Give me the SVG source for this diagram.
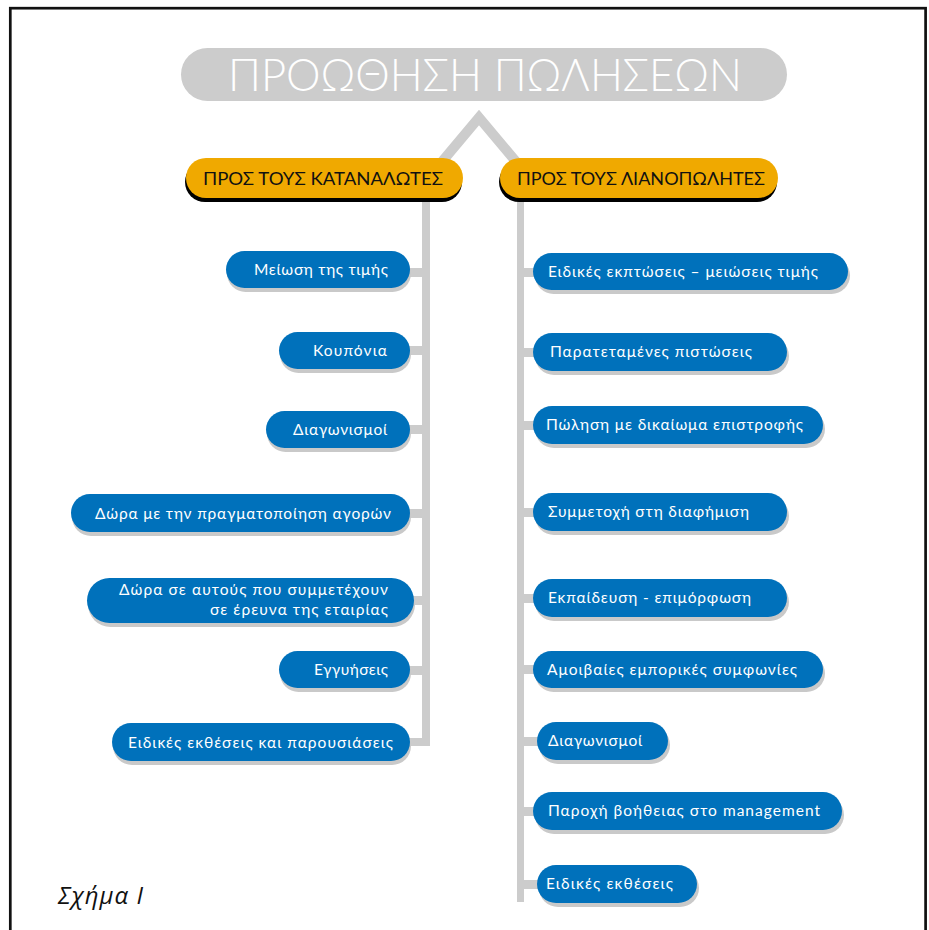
<svg xmlns="http://www.w3.org/2000/svg" width="929" height="930" viewBox="0 0 929 930">
<style>
.frame{fill:none;stroke:#111;stroke-width:2.7}
.bar{fill:#cccccc}
.chev{fill:none;stroke:#cccccc;stroke-width:10;stroke-linejoin:miter}
.title{fill:#cccccc}
.tt{font-family:Lato,"Open Sans",sans-serif;font-weight:300;font-size:46px;fill:#ffffff}
.cat{fill:#f0a900}
.catsh{fill:#000000}
.ct{font-family:Lato,"Open Sans",sans-serif;font-size:17px;fill:#111111}
.node{fill:#0071bb}
.sh{fill:#c9c9c9}
.nt{font-family:Lato,"Open Sans",sans-serif;font-size:15.5px;fill:#ffffff}
.cap{font-family:"Open Sans",Lato,sans-serif;font-style:italic;font-size:24px;fill:#111111}
</style>
<rect class="frame" x="10.3" y="8.2" width="915.3" height="940"/>

<g id="connectors">
  <polyline class="chev" points="435,170 479,117.5 523,170"/>
  <rect class="bar" x="422" y="195" width="8" height="551"/>
  <rect class="bar" x="517" y="195" width="7" height="707"/>
  <rect class="bar" x="405" y="268" width="20" height="9"/>
  <rect class="bar" x="405" y="346" width="20" height="9"/>
  <rect class="bar" x="405" y="425" width="20" height="9"/>
  <rect class="bar" x="405" y="509" width="20" height="9"/>
  <rect class="bar" x="405" y="596" width="20" height="9"/>
  <rect class="bar" x="405" y="666" width="20" height="9"/>
  <rect class="bar" x="405" y="738" width="20" height="8"/>
  <rect class="bar" x="520" y="268" width="20" height="9"/>
  <rect class="bar" x="520" y="348" width="20" height="9"/>
  <rect class="bar" x="520" y="421" width="20" height="9"/>
  <rect class="bar" x="520" y="508" width="20" height="9"/>
  <rect class="bar" x="520" y="594" width="20" height="9"/>
  <rect class="bar" x="520" y="665" width="20" height="9"/>
  <rect class="bar" x="520" y="737" width="20" height="9"/>
  <rect class="bar" x="520" y="807" width="20" height="9"/>
  <rect class="bar" x="520" y="880" width="20" height="9"/>
</g>

<g id="title">
  <rect class="title" x="181" y="48" width="606" height="53" rx="26.5"/>
  <text class="tt" x="228" y="91" textLength="514" lengthAdjust="spacingAndGlyphs">ΠΡΟΩΘΗΣΗ ΠΩΛΗΣΕΩΝ</text>
</g>

<g id="cat-left">
  <rect class="catsh" x="185" y="162" width="277" height="40" rx="20"/>
  <rect class="cat" x="186" y="158" width="277" height="40" rx="20"/>
  <text class="ct" x="203" y="185" textLength="240" lengthAdjust="spacingAndGlyphs">ΠΡΟΣ ΤΟΥΣ ΚΑΤΑΝΑΛΩΤΕΣ</text>
</g>
<g id="cat-right">
  <rect class="catsh" x="499" y="162" width="278" height="40" rx="20"/>
  <rect class="cat" x="500" y="158" width="278" height="40" rx="20"/>
  <text class="ct" x="517" y="185" textLength="248" lengthAdjust="spacingAndGlyphs">ΠΡΟΣ ΤΟΥΣ ΛΙΑΝΟΠΩΛΗΤΕΣ</text>
</g>

<g id="l1">
  <rect class="sh" x="227" y="255" width="184" height="37" rx="18.5"/>
  <rect class="node" x="226" y="251" width="184" height="37" rx="18.5"/>
  <text class="nt" x="388" y="275" text-anchor="end" textLength="134">Μείωση της τιμής</text>
</g>
<g id="l2">
  <rect class="sh" x="280" y="336" width="131" height="37" rx="18.5"/>
  <rect class="node" x="279" y="332" width="131" height="37" rx="18.5"/>
  <text class="nt" x="387" y="356" text-anchor="end" textLength="74">Κουπόνια</text>
</g>
<g id="l3">
  <rect class="sh" x="267" y="415" width="144" height="37" rx="18.5"/>
  <rect class="node" x="266" y="411" width="144" height="37" rx="18.5"/>
  <text class="nt" x="387" y="435" text-anchor="end" textLength="94">Διαγωνισμοί</text>
</g>
<g id="l4">
  <rect class="sh" x="72" y="498" width="339" height="38" rx="19"/>
  <rect class="node" x="71" y="494" width="339" height="38" rx="19"/>
  <text class="nt" x="391" y="519" text-anchor="end" textLength="296">Δώρα με την πραγματοποίηση αγορών</text>
</g>
<g id="l5">
  <rect class="sh" x="88" y="582" width="327" height="45" rx="22.5"/>
  <rect class="node" x="87" y="578" width="327" height="45" rx="22.5"/>
  <text class="nt" x="388" y="595" text-anchor="end" textLength="269">Δώρα σε αυτούς που συμμετέχουν</text>
  <text class="nt" x="388" y="615" text-anchor="end" textLength="178">σε έρευνα της εταιρίας</text>
</g>
<g id="l6">
  <rect class="sh" x="280" y="655" width="131" height="37" rx="18.5"/>
  <rect class="node" x="279" y="651" width="131" height="37" rx="18.5"/>
  <text class="nt" x="388" y="675" text-anchor="end" textLength="74">Εγγυήσεις</text>
</g>
<g id="l7">
  <rect class="sh" x="113" y="727" width="298" height="38" rx="19"/>
  <rect class="node" x="112" y="723" width="298" height="38" rx="19"/>
  <text class="nt" x="393" y="748" text-anchor="end" textLength="265">Ειδικές εκθέσεις και παρουσιάσεις</text>
</g>

<g id="r1">
  <rect class="sh" x="535" y="257" width="315" height="37" rx="18.5"/>
  <rect class="node" x="533" y="253" width="315" height="37" rx="18.5"/>
  <text class="nt" x="548" y="277" textLength="270">Ειδικές εκπτώσεις – μειώσεις τιμής</text>
</g>
<g id="r2">
  <rect class="sh" x="535" y="337" width="254" height="38" rx="19"/>
  <rect class="node" x="533" y="333" width="254" height="38" rx="19"/>
  <text class="nt" x="550" y="357" textLength="202">Παρατεταμένες πιστώσεις</text>
</g>
<g id="r3">
  <rect class="sh" x="535" y="410" width="290" height="38" rx="19"/>
  <rect class="node" x="533" y="406" width="290" height="38" rx="19"/>
  <text class="nt" x="546" y="430" textLength="257">Πώληση με δικαίωμα επιστροφής</text>
</g>
<g id="r4">
  <rect class="sh" x="535" y="497" width="254" height="38" rx="19"/>
  <rect class="node" x="533" y="493" width="254" height="38" rx="19"/>
  <text class="nt" x="548" y="517" textLength="201">Συμμετοχή στη διαφήμιση</text>
</g>
<g id="r5">
  <rect class="sh" x="535" y="583" width="254" height="38" rx="19"/>
  <rect class="node" x="533" y="579" width="254" height="38" rx="19"/>
  <text class="nt" x="548" y="603" textLength="203">Εκπαίδευση - επιμόρφωση</text>
</g>
<g id="r6">
  <rect class="sh" x="535" y="655" width="290" height="37" rx="18.5"/>
  <rect class="node" x="533" y="651" width="290" height="37" rx="18.5"/>
  <text class="nt" x="547" y="675" textLength="250">Αμοιβαίες εμπορικές συμφωνίες</text>
</g>
<g id="r7">
  <rect class="sh" x="539" y="726" width="131" height="38" rx="19"/>
  <rect class="node" x="537" y="722" width="131" height="38" rx="19"/>
  <text class="nt" x="548" y="746" textLength="94">Διαγωνισμοί</text>
</g>
<g id="r8">
  <rect class="sh" x="535" y="796" width="309" height="38" rx="19"/>
  <rect class="node" x="533" y="792" width="309" height="38" rx="19"/>
  <text class="nt" x="548" y="816" textLength="272">Παροχή βοήθειας στο management</text>
</g>
<g id="r9">
  <rect class="sh" x="539" y="869" width="160" height="38" rx="19"/>
  <rect class="node" x="537" y="865" width="160" height="38" rx="19"/>
  <text class="nt" x="546" y="889" textLength="127">Ειδικές εκθέσεις</text>
</g>

<text class="cap" x="58" y="904" textLength="85">Σχήμα Ι</text>
</svg>
